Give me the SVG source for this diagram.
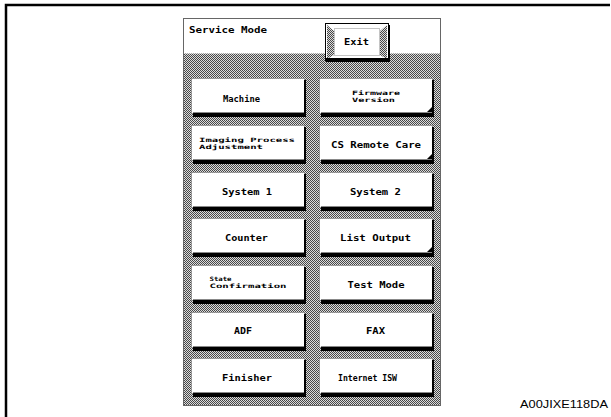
<svg xmlns="http://www.w3.org/2000/svg" width="611" height="417" viewBox="0 0 611 417">
<defs>
<pattern id="hatch" width="2" height="2" patternUnits="userSpaceOnUse">
<rect width="2" height="2" fill="#dcdcdc"/>
<rect width="1" height="1" fill="#484848"/>
<rect x="1" y="1" width="1" height="1" fill="#484848"/>
</pattern>
<g id="btn">
<rect x="0.5" y="0.5" width="113" height="35" fill="#fff" stroke="#666" stroke-width="1" stroke-dasharray="1 1"/>
<rect x="2" y="35" width="113" height="4" fill="#000"/>
<rect x="113" y="2" width="2" height="37" fill="#000"/>
<rect x="2" y="34" width="111" height="1" fill="#888"/>
</g>
<polygon id="tri" points="108,34 113,29 113,34" fill="#000"/>
</defs>
<style>
.t{font-family:"DejaVu Sans Mono","Liberation Mono",monospace;font-weight:bold;font-size:9.5px;fill:#000}
.s{font-family:"DejaVu Sans Mono","Liberation Mono",monospace;font-weight:bold;font-size:6px;fill:#000}
.cap{font-family:"Liberation Sans",Arial,sans-serif;font-size:10.5px;fill:#000}
</style>
<rect width="611" height="417" fill="#fff"/>
<g id="frame">
<path d="M6,417 V5 H610" fill="none" stroke="#000" stroke-width="2.5"/>
</g>
<g id="panel">
<rect x="183" y="18" width="258" height="388" fill="url(#hatch)"/>
<rect x="183.5" y="18.5" width="257" height="35" fill="#fff"/>
<rect x="183.5" y="18.5" width="257" height="387" fill="none" stroke="#666" stroke-width="1"/>
<text class="t" x="189" y="33" textLength="78" lengthAdjust="spacingAndGlyphs">Service Mode</text>
</g>
<g id="exit">
<rect x="325.5" y="23.5" width="63" height="37" fill="#fff" stroke="#000" stroke-width="1"/>
<polygon points="327,25 334,31 334,55 327,59" fill="url(#hatch)"/>
<polygon points="387,25 380,31 380,55 387,59" fill="url(#hatch)"/>
<rect x="326" y="58" width="64" height="4" fill="#000"/>
<rect x="388" y="25" width="2" height="37" fill="#000"/>
<rect x="334.5" y="28.5" width="45" height="27" fill="#fff" stroke="#888" stroke-dasharray="1 1"/>
<text class="t" x="344" y="45" textLength="25" lengthAdjust="spacingAndGlyphs">Exit</text>
</g>
<g id="machine"><use href="#btn" x="191" y="78"/><text class="t" x="223" y="101.5" textLength="37" lengthAdjust="spacingAndGlyphs">Machine</text></g>
<g id="firmware"><use href="#btn" x="319" y="78"/><use href="#tri" x="319" y="78"/><text class="s" x="352" y="95" textLength="48" lengthAdjust="spacingAndGlyphs">Firmware</text><text class="s" x="352" y="102" textLength="43" lengthAdjust="spacingAndGlyphs">Version</text></g>
<g id="imaging"><use href="#btn" x="191" y="125"/><text class="s" x="199" y="142" textLength="96" lengthAdjust="spacingAndGlyphs">Imaging Process</text><text class="s" x="199" y="149" textLength="64" lengthAdjust="spacingAndGlyphs">Adjustment</text></g>
<g id="csremote"><use href="#btn" x="319" y="125"/><use href="#tri" x="319" y="125"/><text class="t" x="331" y="148" textLength="90" lengthAdjust="spacingAndGlyphs">CS Remote Care</text></g>
<g id="system1"><use href="#btn" x="191" y="172"/><text class="t" x="222" y="194.5" textLength="50" lengthAdjust="spacingAndGlyphs">System 1</text></g>
<g id="system2"><use href="#btn" x="319" y="172"/><text class="t" x="350" y="194.5" textLength="51" lengthAdjust="spacingAndGlyphs">System 2</text></g>
<g id="counter"><use href="#btn" x="191" y="218"/><text class="t" x="225" y="241" textLength="43" lengthAdjust="spacingAndGlyphs">Counter</text></g>
<g id="listoutput"><use href="#btn" x="319" y="218"/><use href="#tri" x="319" y="218"/><text class="t" x="340" y="241" textLength="71" lengthAdjust="spacingAndGlyphs">List Output</text></g>
<g id="state"><use href="#btn" x="191" y="265"/><text class="s" x="209.5" y="281" textLength="22" lengthAdjust="spacingAndGlyphs">State</text><text class="s" x="209.5" y="288" textLength="77" lengthAdjust="spacingAndGlyphs">Confirmation</text></g>
<g id="testmode"><use href="#btn" x="319" y="265"/><text class="t" x="347.5" y="287.5" textLength="57" lengthAdjust="spacingAndGlyphs">Test Mode</text></g>
<g id="adf"><use href="#btn" x="191" y="312"/><text class="t" x="234" y="334" textLength="18" lengthAdjust="spacingAndGlyphs">ADF</text></g>
<g id="fax"><use href="#btn" x="319" y="312"/><text class="t" x="366" y="334" textLength="19" lengthAdjust="spacingAndGlyphs">FAX</text></g>
<g id="finisher"><use href="#btn" x="191" y="358"/><text class="t" x="222" y="380.5" textLength="50" lengthAdjust="spacingAndGlyphs">Finisher</text></g>
<g id="internetisw"><use href="#btn" x="319" y="358"/><text class="t" x="338" y="380.5" textLength="59" lengthAdjust="spacingAndGlyphs">Internet ISW</text></g>
<g id="caption"><text class="cap" x="520" y="408" textLength="88" lengthAdjust="spacingAndGlyphs">A00JIXE118DA</text></g>
<g id="connectors"></g>
</svg>
